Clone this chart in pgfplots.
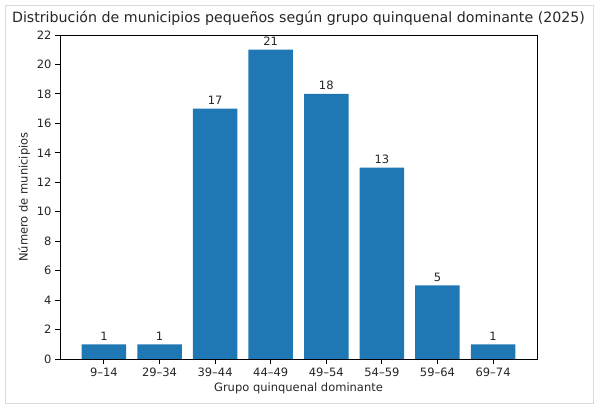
\documentclass[border=0pt]{standalone}
\usepackage{fontspec}
\setmainfont{DejaVu Sans}
\usepackage{pgfplots}
\pgfplotsset{compat=1.18}
\definecolor{barblue}{HTML}{1F77B4}
\begin{document}
\begin{tikzpicture}[x=1pt,y=1pt]
\path[use as bounding box] (0,0) rectangle (600,417);
\draw[color=black!14, line width=1pt] (5,13) rectangle (593,411);
\begin{axis}[
  at={(60pt,58pt)}, anchor=south west,
  scale only axis, width=477pt, height=324pt,
  xmin=-0.79, xmax=7.79, ymin=0, ymax=22,
  ytick={0,2,...,22},
  xtick={0,1,2,3,4,5,6,7},
  xticklabels={9–14,29–34,39–44,44–49,49–54,54–59,59–64,69–74},
  tick align=outside, tick pos=left,
  major tick length=5pt,
  tick style={black, line width=0.9pt},
  axis line style={black, line width=0.9pt},
  /pgf/number format/assume math mode=true,
  ticklabel style={font=\fontsize{11.5}{13}\selectfont, text=black!85},
  label style={font=\fontsize{11.5}{13}\selectfont, text=black!85},
  title style={font=\fontsize{14.2}{17}\selectfont, text=black!85},
  title={Distribución de municipios pequeños según grupo quinquenal dominante (2025)},
  xlabel={Grupo quinquenal dominante},
  ylabel={Número de municipios},
  ybar, bar width=0.8,
  nodes near coords,
  every node near coord/.append style={font=\fontsize{11.5}{13}\selectfont, text=black!85, yshift=0.5pt},
]
\addplot[fill=barblue, draw=none] coordinates {
  (0,1) (1,1) (2,17) (3,21) (4,18) (5,13) (6,5) (7,1)
};
\end{axis}
\end{tikzpicture}
\end{document}
